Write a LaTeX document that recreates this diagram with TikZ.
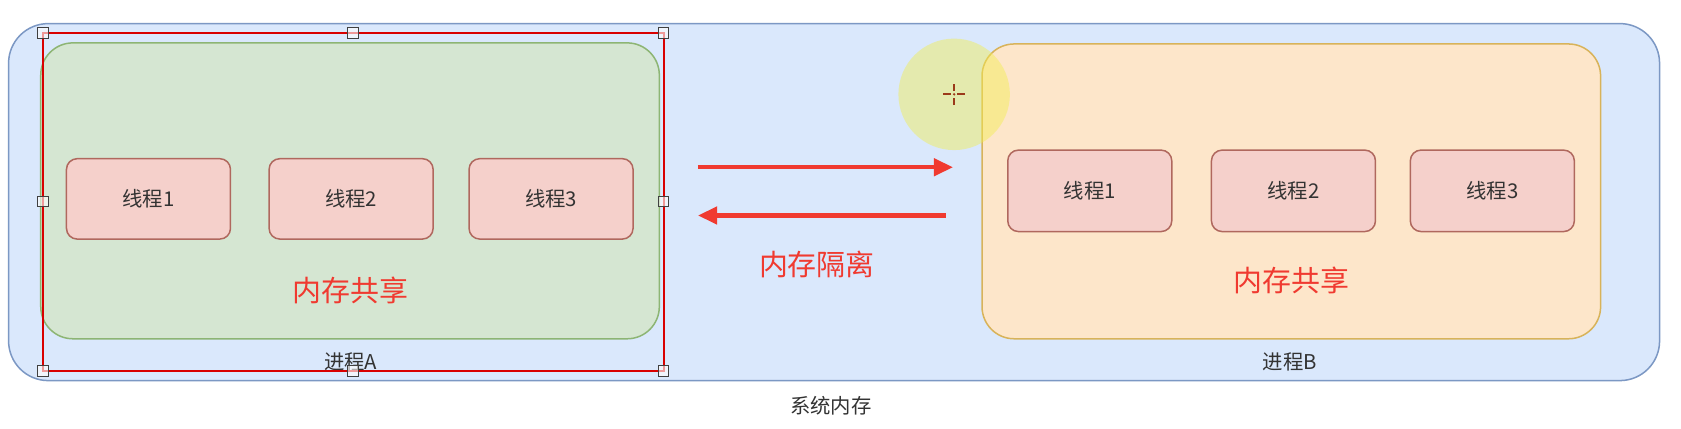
\documentclass[tikz,border=0pt]{standalone}
\usepackage{fontspec}
\setmainfont{Noto Sans CJK SC}
\usetikzlibrary{arrows.meta}
\definecolor{outerfill}{HTML}{DAE8FC}
\definecolor{outerdraw}{HTML}{7C98C4}
\definecolor{greenfill}{HTML}{D5E6D2}
\definecolor{greendraw}{HTML}{8DB574}
\definecolor{orangefill}{HTML}{FDE6CA}
\definecolor{orangedraw}{HTML}{D8B35A}
\definecolor{threadfill}{HTML}{F5D0CB}
\definecolor{threaddraw}{HTML}{B0685E}
\definecolor{redtext}{HTML}{F03A30}
\definecolor{labeltext}{HTML}{333333}
\definecolor{cursorcol}{HTML}{9B3A1A}
\definecolor{hilite}{HTML}{F2EE50}
\tikzset{
  x=1pt, y=-1pt,
  outerbox/.style={draw=outerdraw, fill=outerfill, line width=1.4pt, rounded corners=37pt, minimum width=1540pt, minimum height=333pt},
  procA/.style={draw=greendraw, fill=greenfill, line width=1.4pt, rounded corners=30pt, minimum width=577pt, minimum height=276pt},
  procB/.style={draw=orangedraw, fill=orangefill, line width=1.4pt, rounded corners=30pt, minimum width=577pt, minimum height=275pt},
  thread/.style={draw=threaddraw, fill=threadfill, line width=1.4pt, rounded corners=10pt, minimum width=153pt, minimum height=75pt, font=\fontsize{19}{22}\selectfont, text=labeltext, inner sep=0pt},
  smalllabel/.style={font=\fontsize{19}{22}\selectfont, text=labeltext, inner sep=0pt},
  biglabel/.style={font=\fontsize{27}{30}\selectfont, text=redtext, inner sep=0pt},
  redarrow/.style={draw=redtext, line width=4pt, -{Triangle[length=18pt,width=16pt]}},
  handle/.style={draw=black!75, fill=white, fill opacity=0.6, line width=0.9pt, minimum size=10pt, inner sep=0pt},
  selbox/.style={draw=red!85!black, line width=1.8pt},
  cursorline/.style={draw=cursorcol, line width=2pt},
}
\begin{document}
\begin{tikzpicture}
\useasboundingbox (0,0) rectangle (1568,400);
\fill[white] (0,0) rectangle (1568,400);
% outer container
\node[outerbox] (sys) at (778,188.5) {};
\node[smalllabel] (syslabel) at (775,378) {系统内存};
% process A
\node[procA] (pa) at (326.5,178) {};
\node[smalllabel] (palabel) at (327,338) {进程A};
\node[thread] (a1) at (138.5,185.5) {线程1};
\node[thread] (a2) at (327.5,185.5) {线程2};
\node[thread] (a3) at (514,185.5) {线程3};
\node[biglabel] (ashare) at (327,271) {内存共享};
% process B
\node[procB] (pb) at (1204.5,178.5) {};
\node[smalllabel] (pblabel) at (1203,338) {进程B};
\node[thread, minimum height=76pt] (b1) at (1016.5,178) {线程1};
\node[thread, minimum height=76pt] (b2) at (1206.5,178) {线程2};
\node[thread, minimum height=76pt] (b3) at (1392,178) {线程3};
\node[biglabel] (bshare) at (1205,262) {内存共享};
% arrows
\coordinate (r1) at (651,156);
\coordinate (r2) at (889,156);
\coordinate (l1) at (882,201);
\coordinate (l2) at (651,201);
\draw[redarrow] (r1) -- (r2);
\draw[redarrow] (l1) -- (l2);
\node[biglabel] (iso) at (762,247) {内存隔离};
% selection rectangle with handles
\coordinate (s1) at (40,31);
\coordinate (s2) at (619,346);
\draw[selbox] (s1) rectangle (s2);
\foreach \hx/\hy [count=\i] in {40/31, 329/31, 619/31, 40/188, 619/188, 40/346, 329/346, 619/346}
  \node[handle] (h\i) at (\hx,\hy) {};
% highlight cursor
\fill[hilite, opacity=0.45] (890,88) circle (52);
\coordinate (cur) at (890,88);
\draw[cursorline] ([xshift=-10pt]cur) -- ([xshift=-3pt]cur);
\draw[cursorline] ([xshift=3pt]cur) -- ([xshift=10pt]cur);
\draw[cursorline] ([yshift=-10pt]cur) -- ([yshift=-3pt]cur);
\draw[cursorline] ([yshift=3pt]cur) -- ([yshift=10pt]cur);
\fill[cursorcol] (cur) circle (1.2);
\end{tikzpicture}
\end{document}
